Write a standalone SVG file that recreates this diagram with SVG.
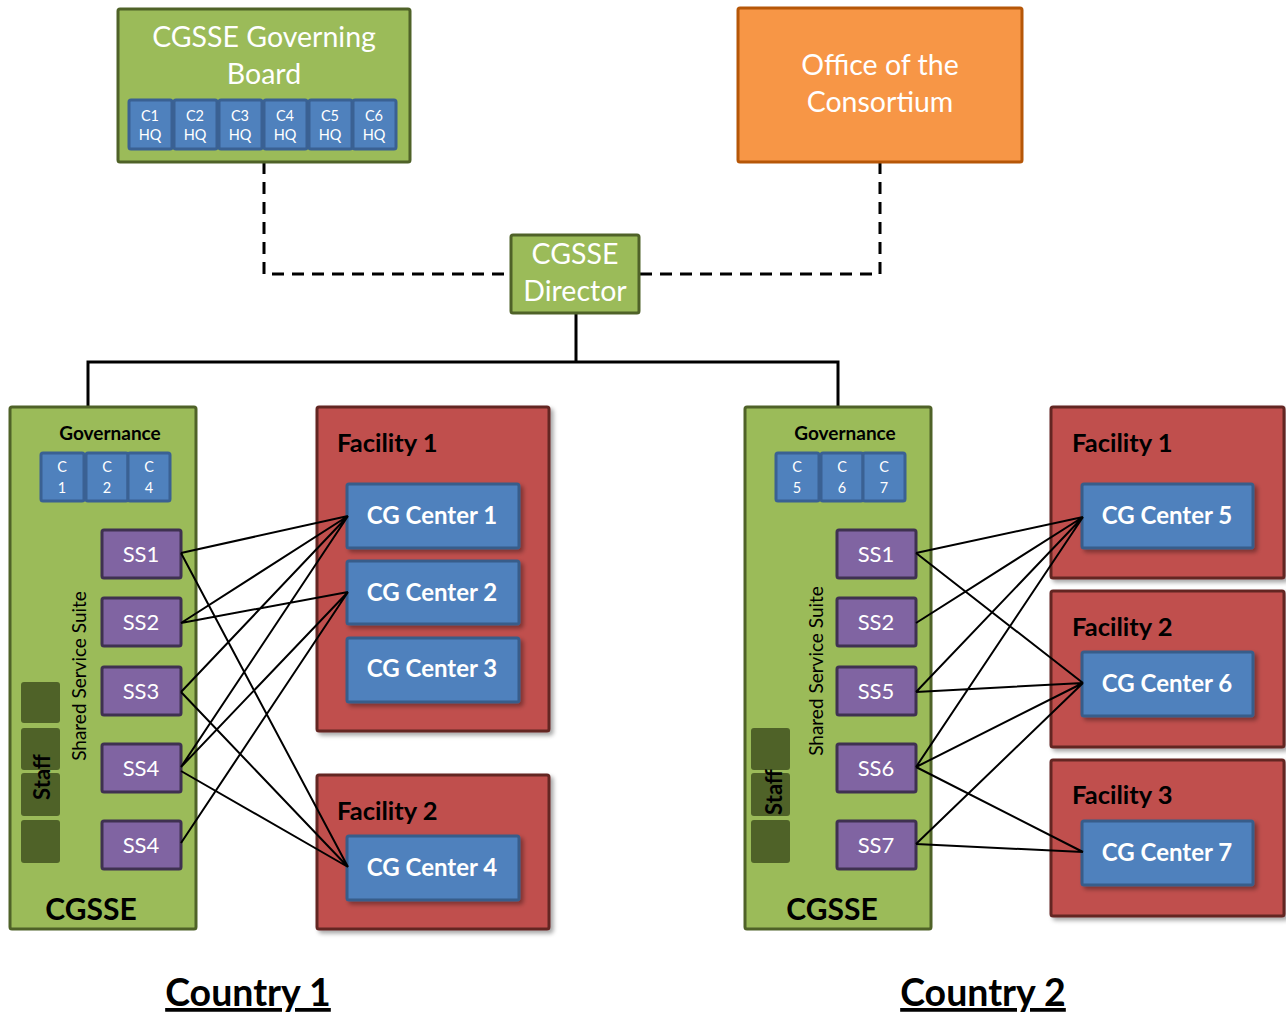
<svg xmlns="http://www.w3.org/2000/svg" width="1286" height="1014" viewBox="0 0 1286 1014">
<style>
text{font-family:Lato,"Liberation Sans",sans-serif}
.green{fill:#9BBB59;stroke:#4F6228;stroke-width:3}
.orange{fill:#F79646;stroke:#B65708;stroke-width:3}
.red{fill:#C0504D;stroke:#632523;stroke-width:3}
.blue{fill:#4F81BD;stroke:#385D8A;stroke-width:3}
.sblue{fill:#4F81BD;stroke:#3A6193;stroke-width:3}
.purple{fill:#8064A2;stroke:#3F3151;stroke-width:3}
.staff{fill:#4F6228}
.wt{fill:#fff;text-anchor:middle}
.bt{fill:#000}
.ln{stroke:#000;stroke-width:2;fill:none}
.title{font-size:28.5px}
.cg{font-size:24px;font-weight:bold}
.fac{font-size:25.5px;font-weight:bold}
.ss{font-size:22px}
</style>
<defs>
<filter id="sh" x="-10%" y="-10%" width="130%" height="130%">
<feDropShadow dx="3" dy="3" stdDeviation="2" flood-color="#000" flood-opacity="0.35"/>
</filter>
</defs>

<g id="connectors">
<path d="M264,162 V274 H511 M880,162 V274 H639" stroke="#000" stroke-width="3" fill="none" stroke-dasharray="12,8"/>
<path d="M576,313 V362 M88,407 V362 H838 V407" stroke="#000" stroke-width="3" fill="none"/>
</g>

<g id="board">
<rect class="green" x="118" y="9" width="292" height="153" rx="2"/>
<text class="wt title" x="264" y="47">CGSSE Governing</text>
<text class="wt title" x="264" y="84">Board</text>
<g font-size="14.5">
<rect class="sblue" x="129" y="100" width="43" height="49" rx="2"/>
<rect class="sblue" x="174" y="100" width="43" height="49" rx="2"/>
<rect class="sblue" x="219" y="100" width="43" height="49" rx="2"/>
<rect class="sblue" x="264" y="100" width="43" height="49" rx="2"/>
<rect class="sblue" x="309" y="100" width="43" height="49" rx="2"/>
<rect class="sblue" x="353" y="100" width="43" height="49" rx="2"/>
<text class="wt" x="150" y="121">C1</text><text class="wt" x="150" y="140">HQ</text>
<text class="wt" x="195" y="121">C2</text><text class="wt" x="195" y="140">HQ</text>
<text class="wt" x="240" y="121">C3</text><text class="wt" x="240" y="140">HQ</text>
<text class="wt" x="285" y="121">C4</text><text class="wt" x="285" y="140">HQ</text>
<text class="wt" x="330" y="121">C5</text><text class="wt" x="330" y="140">HQ</text>
<text class="wt" x="374" y="121">C6</text><text class="wt" x="374" y="140">HQ</text>
</g>
</g>

<g id="office">
<rect class="orange" x="738" y="8" width="284" height="154" rx="2"/>
<text class="wt title" x="880" y="75">Office of the</text>
<text class="wt title" x="880" y="112">Consortium</text>
</g>

<g id="director">
<rect class="green" x="511" y="235" width="128" height="78" rx="2"/>
<text class="wt title" x="575" y="264">CGSSE</text>
<text class="wt title" x="575" y="301">Director</text>
</g>

<!-- Country 1 -->
<g id="cgsse1">
<rect class="green" x="10" y="407" width="186" height="522" rx="2"/>
<text x="110" y="440" font-size="19" font-weight="bold" text-anchor="middle" class="bt">Governance</text>
<rect class="sblue" x="41" y="453" width="43" height="48" rx="2"/>
<rect class="sblue" x="86" y="453" width="42" height="48" rx="2"/>
<rect class="sblue" x="128" y="453" width="42" height="48" rx="2"/>
<g font-size="14.5">
<text class="wt" x="62" y="472">C</text><text class="wt" x="62" y="493">1</text>
<text class="wt" x="107" y="472">C</text><text class="wt" x="107" y="493">2</text>
<text class="wt" x="149" y="472">C</text><text class="wt" x="149" y="493">4</text>
</g>
<text transform="translate(86,676) rotate(-90)" font-size="19" text-anchor="middle" class="bt">Shared Service Suite</text>
<rect class="staff" x="21" y="682" width="39" height="41" rx="3"/>
<rect class="staff" x="21" y="728" width="39" height="42" rx="3"/>
<rect class="staff" x="21" y="773" width="39" height="43" rx="3"/>
<rect class="staff" x="21" y="820" width="39" height="43" rx="3"/>
<text transform="translate(50,777) rotate(-90)" font-size="22" font-weight="bold" text-anchor="middle" class="bt">Staff</text>
<text x="91" y="920" font-size="30" font-weight="bold" text-anchor="middle" class="bt">CGSSE</text>
</g>
<g id="c1-ss1"><rect class="purple" x="102" y="530" width="79" height="48" rx="2"/><text class="wt ss" x="141" y="562">SS1</text></g>
<g id="c1-ss2"><rect class="purple" x="102" y="598" width="79" height="48" rx="2"/><text class="wt ss" x="141" y="630">SS2</text></g>
<g id="c1-ss3"><rect class="purple" x="102" y="667" width="79" height="48" rx="2"/><text class="wt ss" x="141" y="699">SS3</text></g>
<g id="c1-ss4"><rect class="purple" x="102" y="744" width="79" height="48" rx="2"/><text class="wt ss" x="141" y="776">SS4</text></g>
<g id="c1-ss4b"><rect class="purple" x="102" y="821" width="79" height="48" rx="2"/><text class="wt ss" x="141" y="853">SS4</text></g>

<g id="c1-facility1">
<rect class="red" x="317" y="407" width="232" height="324" rx="2" filter="url(#sh)"/>
<text class="bt fac" x="337" y="452">Facility 1</text>
</g>
<g id="cg1"><rect class="blue" x="347" y="484" width="172" height="64" rx="2" filter="url(#sh)"/><text class="wt cg" x="432" y="524">CG Center 1</text></g>
<g id="cg2"><rect class="blue" x="347" y="561" width="172" height="63" rx="2" filter="url(#sh)"/><text class="wt cg" x="432" y="601">CG Center 2</text></g>
<g id="cg3"><rect class="blue" x="347" y="638" width="172" height="64" rx="2" filter="url(#sh)"/><text class="wt cg" x="432" y="677">CG Center 3</text></g>
<g id="c1-facility2">
<rect class="red" x="317" y="775" width="232" height="154" rx="2" filter="url(#sh)"/>
<text class="bt fac" x="337" y="820">Facility 2</text>
</g>
<g id="cg4"><rect class="blue" x="347" y="836" width="172" height="64" rx="2" filter="url(#sh)"/><text class="wt cg" x="432" y="876">CG Center 4</text></g>

<!-- Country 2 -->
<g id="cgsse2">
<rect class="green" x="745" y="407" width="186" height="522" rx="2"/>
<text x="845" y="440" font-size="19" font-weight="bold" text-anchor="middle" class="bt">Governance</text>
<rect class="sblue" x="776" y="453" width="43" height="48" rx="2"/>
<rect class="sblue" x="821" y="453" width="42" height="48" rx="2"/>
<rect class="sblue" x="863" y="453" width="42" height="48" rx="2"/>
<g font-size="14.5">
<text class="wt" x="797" y="472">C</text><text class="wt" x="797" y="493">5</text>
<text class="wt" x="842" y="472">C</text><text class="wt" x="842" y="493">6</text>
<text class="wt" x="884" y="472">C</text><text class="wt" x="884" y="493">7</text>
</g>
<text transform="translate(823,671) rotate(-90)" font-size="19" text-anchor="middle" class="bt">Shared Service Suite</text>
<rect class="staff" x="751" y="728" width="39" height="42" rx="3"/>
<rect class="staff" x="751" y="773" width="39" height="43" rx="3"/>
<rect class="staff" x="751" y="820" width="39" height="43" rx="3"/>
<text transform="translate(782,792) rotate(-90)" font-size="22" font-weight="bold" text-anchor="middle" class="bt">Staff</text>
<text x="832" y="920" font-size="30" font-weight="bold" text-anchor="middle" class="bt">CGSSE</text>
</g>
<g id="c2-ss1"><rect class="purple" x="837" y="530" width="79" height="48" rx="2"/><text class="wt ss" x="876" y="562">SS1</text></g>
<g id="c2-ss2"><rect class="purple" x="837" y="598" width="79" height="48" rx="2"/><text class="wt ss" x="876" y="630">SS2</text></g>
<g id="c2-ss5"><rect class="purple" x="837" y="667" width="79" height="48" rx="2"/><text class="wt ss" x="876" y="699">SS5</text></g>
<g id="c2-ss6"><rect class="purple" x="837" y="744" width="79" height="48" rx="2"/><text class="wt ss" x="876" y="776">SS6</text></g>
<g id="c2-ss7"><rect class="purple" x="837" y="821" width="79" height="48" rx="2"/><text class="wt ss" x="876" y="853">SS7</text></g>

<g id="c2-facility1">
<rect class="red" x="1051" y="407" width="233" height="171" rx="2" filter="url(#sh)"/>
<text class="bt fac" x="1072" y="452">Facility 1</text>
</g>
<g id="cg5"><rect class="blue" x="1082" y="484" width="171" height="64" rx="2" filter="url(#sh)"/><text class="wt cg" x="1167" y="524">CG Center 5</text></g>
<g id="c2-facility2">
<rect class="red" x="1051" y="591" width="233" height="156" rx="2" filter="url(#sh)"/>
<text class="bt fac" x="1072" y="636">Facility 2</text>
</g>
<g id="cg6"><rect class="blue" x="1082" y="652" width="171" height="64" rx="2" filter="url(#sh)"/><text class="wt cg" x="1167" y="692">CG Center 6</text></g>
<g id="c2-facility3">
<rect class="red" x="1051" y="760" width="233" height="156" rx="2" filter="url(#sh)"/>
<text class="bt fac" x="1072" y="804">Facility 3</text>
</g>
<g id="cg7"><rect class="blue" x="1082" y="821" width="171" height="64" rx="2" filter="url(#sh)"/><text class="wt cg" x="1167" y="861">CG Center 7</text></g>

<g id="links">
<path class="ln" d="M181,553 L348,516 M181,553 L348,867 M181,623 L348,516 M181,623 L348,592 M181,692 L348,516 M181,692 L348,867 M181,767 L348,516 M181,767 L348,592 M181,771 L348,867 M181,843 L348,592"/>
<path class="ln" d="M916,553 L1083,517 M916,553 L1083,683 M916,623 L1083,517 M916,692 L1083,517 M916,692 L1083,683 M916,767 L1083,517 M916,767 L1083,683 M916,767 L1083,852 M916,844 L1083,683 M916,844 L1083,852"/>
</g>

<g id="labels">
<text x="248" y="1006" font-size="37.5" font-weight="bold" text-anchor="middle" text-decoration="underline" class="bt">Country 1</text>
<text x="983" y="1006" font-size="37.5" font-weight="bold" text-anchor="middle" text-decoration="underline" class="bt">Country 2</text>
</g>
</svg>
